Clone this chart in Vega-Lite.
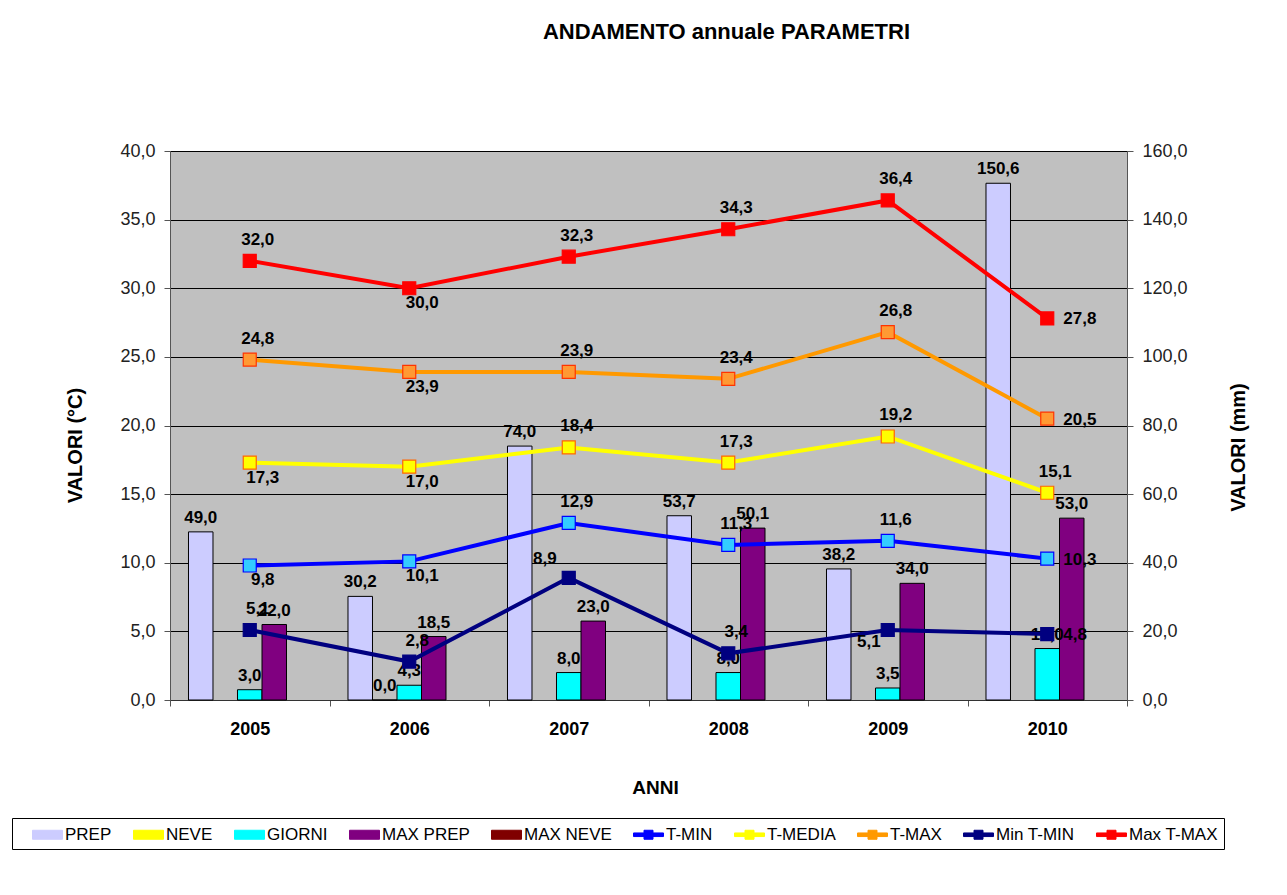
{
  "$schema": "https://vega.github.io/schema/vega-lite/v6.json",
  "width": 957,
  "height": 549,
  "autosize": "none",
  "padding": {"left": 170, "top": 151, "right": 160, "bottom": 195},
  "background": "white",
  "title": {"text": "ANDAMENTO annuale PARAMETRI", "anchor": "middle", "dx": 78, "offset": 98, "fontSize": 22, "fontWeight": "bold", "font": "Liberation Sans", "color": "black"},
  "config": {
    "locale": {"number": {"decimal": ",", "thousands": ".", "grouping": [3], "currency": ["€", ""]}},
    "font": "Liberation Sans",
    "view": {"fill": "#C0C0C0", "stroke": "#808080", "strokeWidth": 1},
    "axis": {"labelFont": "Liberation Sans", "labelFontSize": 18, "labelColor": "#222222", "titleFont": "Liberation Sans", "titleFontSize": 20, "titleFontWeight": "bold", "titleColor": "black", "domainColor": "#555555", "tickColor": "#555555", "tickSize": 6}
  },
  "datasets": {
    "d": [
      {"year": "2005", "series": "PREP", "value": 49.0},
      {"year": "2006", "series": "PREP", "value": 30.2},
      {"year": "2007", "series": "PREP", "value": 74.0},
      {"year": "2008", "series": "PREP", "value": 53.7},
      {"year": "2009", "series": "PREP", "value": 38.2},
      {"year": "2010", "series": "PREP", "value": 150.6},
      {"year": "2006", "series": "NEVE", "value": 0.0},
      {"year": "2005", "series": "GIORNI", "value": 3.0},
      {"year": "2006", "series": "GIORNI", "value": 4.3},
      {"year": "2007", "series": "GIORNI", "value": 8.0},
      {"year": "2008", "series": "GIORNI", "value": 8.0},
      {"year": "2009", "series": "GIORNI", "value": 3.5},
      {"year": "2010", "series": "GIORNI", "value": 15.0},
      {"year": "2005", "series": "MAX PREP", "value": 22.0},
      {"year": "2006", "series": "MAX PREP", "value": 18.5},
      {"year": "2007", "series": "MAX PREP", "value": 23.0},
      {"year": "2008", "series": "MAX PREP", "value": 50.1},
      {"year": "2009", "series": "MAX PREP", "value": 34.0},
      {"year": "2010", "series": "MAX PREP", "value": 53.0},
      {"year": "2005", "series": "T-MIN", "value": 9.8},
      {"year": "2006", "series": "T-MIN", "value": 10.1},
      {"year": "2007", "series": "T-MIN", "value": 12.9},
      {"year": "2008", "series": "T-MIN", "value": 11.3},
      {"year": "2009", "series": "T-MIN", "value": 11.6},
      {"year": "2010", "series": "T-MIN", "value": 10.3},
      {"year": "2005", "series": "T-MEDIA", "value": 17.3},
      {"year": "2006", "series": "T-MEDIA", "value": 17.0},
      {"year": "2007", "series": "T-MEDIA", "value": 18.4},
      {"year": "2008", "series": "T-MEDIA", "value": 17.3},
      {"year": "2009", "series": "T-MEDIA", "value": 19.2},
      {"year": "2010", "series": "T-MEDIA", "value": 15.1},
      {"year": "2005", "series": "T-MAX", "value": 24.8},
      {"year": "2006", "series": "T-MAX", "value": 23.9},
      {"year": "2007", "series": "T-MAX", "value": 23.9},
      {"year": "2008", "series": "T-MAX", "value": 23.4},
      {"year": "2009", "series": "T-MAX", "value": 26.8},
      {"year": "2010", "series": "T-MAX", "value": 20.5},
      {"year": "2005", "series": "Min T-MIN", "value": 5.1},
      {"year": "2006", "series": "Min T-MIN", "value": 2.8},
      {"year": "2007", "series": "Min T-MIN", "value": 8.9},
      {"year": "2008", "series": "Min T-MIN", "value": 3.4},
      {"year": "2009", "series": "Min T-MIN", "value": 5.1},
      {"year": "2010", "series": "Min T-MIN", "value": 4.8},
      {"year": "2005", "series": "Max T-MAX", "value": 32.0},
      {"year": "2006", "series": "Max T-MAX", "value": 30.0},
      {"year": "2007", "series": "Max T-MAX", "value": 32.3},
      {"year": "2008", "series": "Max T-MAX", "value": 34.3},
      {"year": "2009", "series": "Max T-MAX", "value": 36.4},
      {"year": "2010", "series": "Max T-MAX", "value": 27.8}
    ]
  },
  "data": {"name": "d"},
  "layer": [
    {
      "transform": [{"filter": {"field": "series", "oneOf": ["PREP", "NEVE", "GIORNI", "MAX PREP", "MAX NEVE"]}}],
      "encoding": {
        "x": {"field": "year", "type": "ordinal", "scale": {"paddingInner": 0, "paddingOuter": 0},
          "axis": {"title": "ANNI", "titleFontSize": 19, "titleX": 485, "titleY": 87, "titleBaseline": "middle", "labelAngle": 0, "labelFontWeight": "bold", "labelColor": "black", "labelPadding": 14, "tickBand": "extent", "domainColor": "#333333"}},
        "xOffset": {"field": "series", "type": "nominal", "scale": {"domain": ["PREP", "NEVE", "GIORNI", "MAX PREP", "MAX NEVE"], "paddingInner": 0, "paddingOuter": 0.755}},
        "y": {"field": "value", "type": "quantitative", "scale": {"domain": [0, 160], "nice": false},
          "axis": {"orient": "right", "values": [0, 20, 40, 60, 80, 100, 120, 140, 160], "format": ".1f", "grid": false, "title": "VALORI (mm)", "labelPadding": 9, "titleX": 111, "titleY": 296, "titleAngle": -90, "titleBaseline": "middle", "titleAlign": "center"}}
      },
      "layer": [
        {
          "mark": {"type": "bar", "stroke": "black", "strokeWidth": 1},
          "encoding": {
            "color": {"field": "series", "type": "nominal",
              "scale": {"domain": ["PREP", "NEVE", "GIORNI", "MAX PREP", "MAX NEVE", "T-MIN", "T-MEDIA", "T-MAX", "Min T-MIN", "Max T-MAX"],
                "range": ["#CCCCFF", "#FFFF00", "#00FFFF", "#800080", "#800000", "#0000FF", "#FFFF00", "#FF9900", "#000080", "#FF0000"]},
              "legend": {"orient": "none", "legendX": -158, "legendY": 667, "direction": "horizontal", "columns": 10,
                "title": "\u00a0", "titleOrient": "left", "titleFontSize": 10, "titlePadding": 19,
                "labelFontSize": 17, "labelFont": "Liberation Sans", "labelColor": "black", "symbolSize": 400, "labelOffset": 7,
                "columnPadding": 19, "padding": 6, "strokeColor": "black", "fillColor": "white", "symbolStrokeWidth": 1, "symbolOpacity": 1,
                "symbolType": {"expr": "indexof(['T-MIN','T-MEDIA','T-MAX','Min T-MIN','Max T-MAX'], datum.value) >= 0 ? 'M-1.5,-0.18H-0.45V-0.45H0.45V-0.18H1.5V0.18H0.45V0.45H-0.45V0.18H-1.5Z' : 'M-1.5,-0.45H1.5V0.45H-1.5Z'"},
                "symbolStrokeColor": {"expr": "indexof(['T-MIN','T-MEDIA','T-MAX','Min T-MIN','Max T-MAX'], datum.value) >= 0 ? (datum.value == 'T-MEDIA' ? '#FF6600' : (datum.value == 'T-MAX' ? '#FF3300' : (datum.value == 'T-MIN' ? '#0000FF' : (datum.value == 'Min T-MIN' ? '#000080' : '#FF0000')))) : '#000000'"}
              }
            }
          }
        },
        {
          "mark": {"type": "text", "fontWeight": "bold", "fontSize": 17, "color": "black", "baseline": "middle", "dy": -14},
          "encoding": {"text": {"field": "value", "type": "quantitative", "format": ".1f"}}
        }
      ]
    },
    {
      "transform": [{"filter": {"field": "series", "oneOf": ["T-MIN", "T-MEDIA", "T-MAX", "Min T-MIN", "Max T-MAX"]}}],
      "encoding": {
        "x": {"field": "year", "type": "ordinal"},
        "y": {"field": "value", "type": "quantitative", "scale": {"domain": [0, 40], "nice": false},
          "axis": {"orient": "left", "values": [0, 5, 10, 15, 20, 25, 30, 35, 40], "format": ".1f", "grid": true, "gridColor": "black", "gridWidth": 1, "gridOpacity": 1, "title": "VALORI (°C)", "labelPadding": 9, "titleX": -95, "titleY": 294, "titleAngle": -90, "titleBaseline": "middle", "titleAlign": "center"}}
      },
      "layer": [
        {
          "mark": {"type": "line", "strokeWidth": 4},
          "encoding": {"color": {"field": "series", "type": "nominal", "legend": null}}
        },
        {
          "mark": {"type": "point", "shape": "square", "filled": true, "size": 169, "strokeWidth": 1.2, "opacity": 1},
          "encoding": {
            "fill": {"field": "series", "type": "nominal", "legend": null, "scale": {"domain": ["T-MIN", "T-MEDIA", "T-MAX", "Min T-MIN", "Max T-MAX"], "range": ["#33CCFF", "#FFFF00", "#FF9933", "#000080", "#FF0000"]}},
            "stroke": {"field": "series", "type": "nominal", "legend": null, "scale": {"domain": ["T-MIN", "T-MEDIA", "T-MAX", "Min T-MIN", "Max T-MAX"], "range": ["#0000FF", "#FF6600", "#FF3300", "#000080", "#FF0000"]}}
          }
        },
        {
          "transform": [{"filter": "!(datum.year == '2010' && datum.series != 'T-MEDIA') && !((datum.year == '2006' && indexof(['Max T-MAX','T-MAX','T-MEDIA','T-MIN'], datum.series) >= 0) || (datum.year == '2005' && indexof(['T-MEDIA','T-MIN'], datum.series) >= 0)) && !(datum.series == 'Min T-MIN' && (datum.year == '2009' || datum.year == '2007'))"}],
          "mark": {"type": "text", "fontWeight": "bold", "fontSize": 17, "color": "black", "baseline": "middle", "align": "center", "dx": 8, "dy": -21},
          "encoding": {"text": {"field": "value", "type": "quantitative", "format": ".1f"}}
        },
        {
          "transform": [{"filter": "(datum.year == '2006' && indexof(['Max T-MAX','T-MAX','T-MEDIA','T-MIN'], datum.series) >= 0) || (datum.year == '2005' && indexof(['T-MEDIA','T-MIN'], datum.series) >= 0)"}],
          "mark": {"type": "text", "fontWeight": "bold", "fontSize": 17, "color": "black", "baseline": "middle", "align": "center", "dx": 13, "dy": 15},
          "encoding": {"text": {"field": "value", "type": "quantitative", "format": ".1f"}}
        },
        {
          "transform": [{"filter": "datum.year == '2010' && datum.series != 'T-MEDIA'"}],
          "mark": {"type": "text", "fontWeight": "bold", "fontSize": 17, "color": "black", "baseline": "middle", "align": "left", "dx": 16, "dy": 1},
          "encoding": {"text": {"field": "value", "type": "quantitative", "format": ".1f"}}
        },
        {
          "transform": [{"filter": "datum.series == 'Min T-MIN' && datum.year == '2009'"}],
          "mark": {"type": "text", "fontWeight": "bold", "fontSize": 17, "color": "black", "baseline": "middle", "align": "right", "dx": -7, "dy": 12},
          "encoding": {"text": {"field": "value", "type": "quantitative", "format": ".1f"}}
        },
        {
          "transform": [{"filter": "datum.series == 'Min T-MIN' && datum.year == '2007'"}],
          "mark": {"type": "text", "fontWeight": "bold", "fontSize": 17, "color": "black", "baseline": "middle", "align": "right", "dx": -12, "dy": -19},
          "encoding": {"text": {"field": "value", "type": "quantitative", "format": ".1f"}}
        }
      ]
    }
  ],
  "resolve": {"scale": {"y": "independent"}}
}
